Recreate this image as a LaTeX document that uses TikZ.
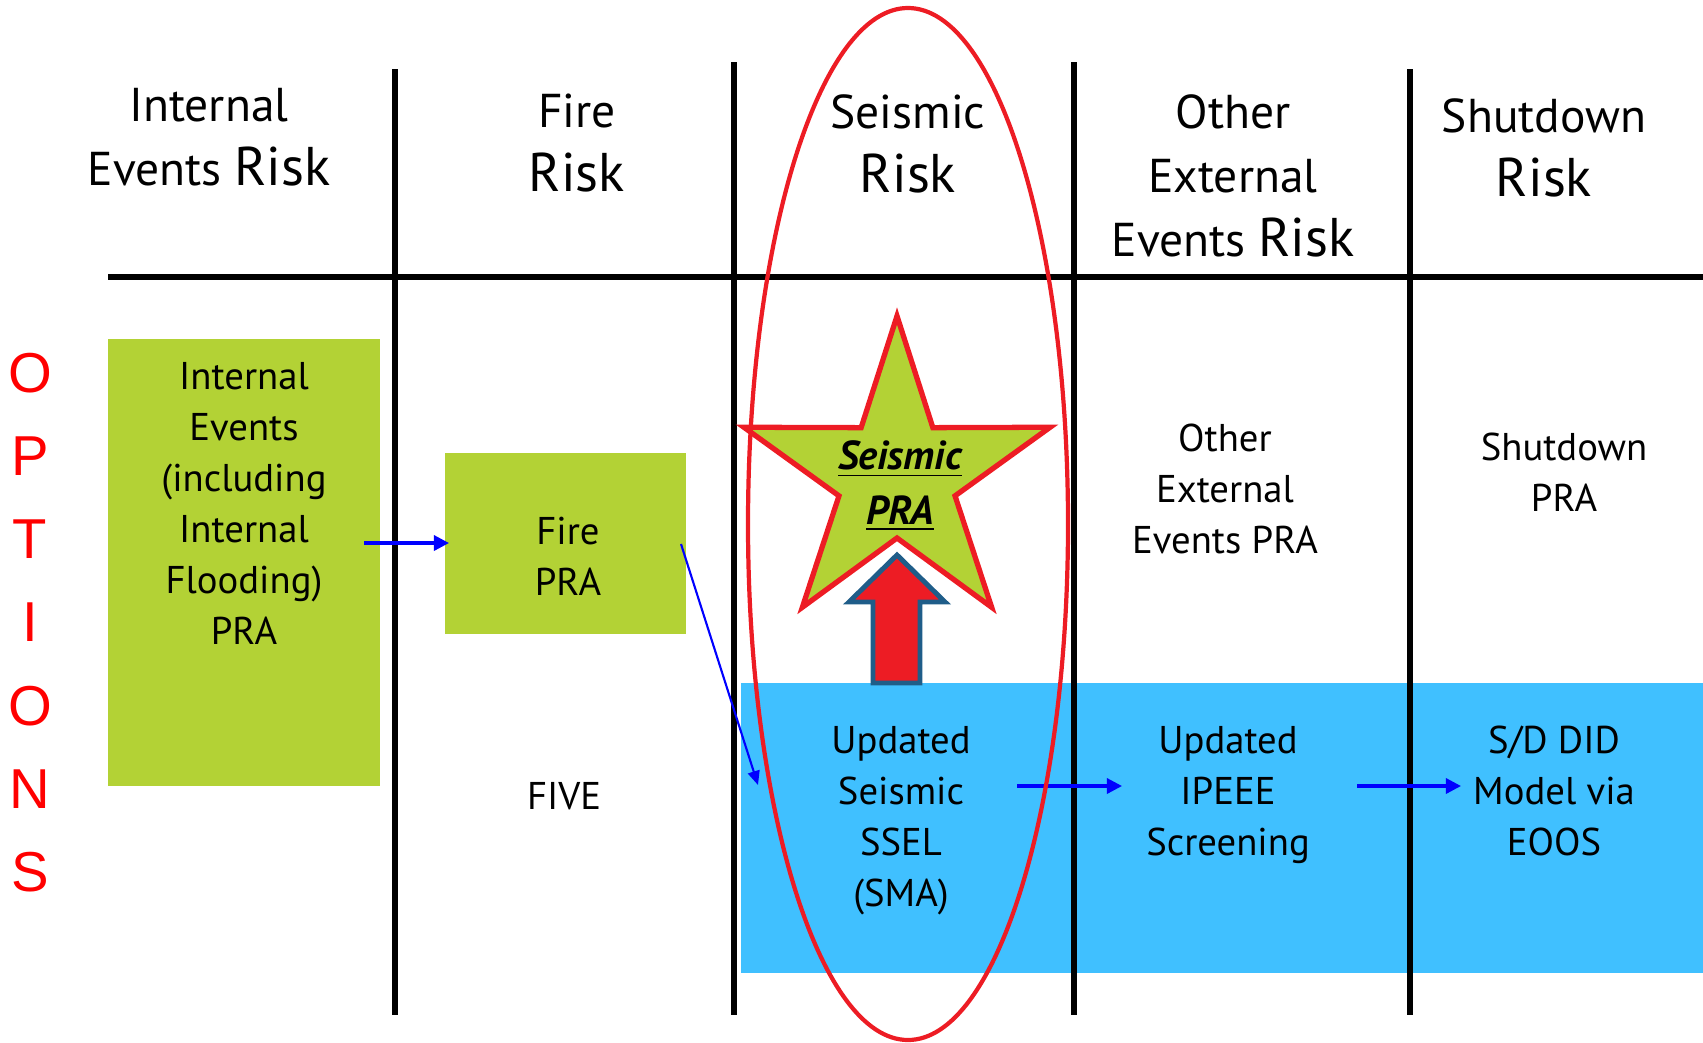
\documentclass[tikz,border=0pt]{standalone}
\usepackage{fontspec}
\setmainfont{PT Sans}
\newfontfamily\optfont{Liberation Sans}
\usetikzlibrary{arrows.meta,positioning,calc}

\definecolor{boxgreen}{RGB}{179,210,53}
\definecolor{bandblue}{RGB}{64,192,255}
\definecolor{ovalred}{RGB}{237,28,36}
\definecolor{edgeblue}{RGB}{31,93,137}

\newcommand{\riskword}{{\fontsize{15.5}{18.2}\selectfont Risk}}

\begin{document}
\begin{tikzpicture}[x=0.01cm,y=-0.01cm,>={Triangle[length=4.3pt,width=4.3pt]},
  hdr/.style={font=\fontsize{13.5}{18.2}\selectfont,align=center},
  txt/.style={font=\fontsize{11}{14.5}\selectfont,align=center},
  greenbox/.style={fill=boxgreen,inner sep=0pt},
  tabline/.style={line width=1.7pt},
  flow/.style={->,blue,line width=0.9pt},
  optletter/.style={font=\optfont\fontsize{16}{16}\selectfont,text=red}]
\useasboundingbox (0,0) rectangle (1703,1042);
% bands and boxes
\fill[bandblue] (741,683) rectangle (1703,973);
\node[greenbox,minimum width=2.72cm,minimum height=4.47cm] (iebox) at (244,562.5) {};
\node[greenbox,minimum width=2.41cm,minimum height=1.81cm] (firebox) at (565.5,543.5) {};
% table rules
\draw[tabline] (108,277) -- (1703,277);
\foreach \x/\t in {395/69,734/62,1074/62,1410/69}
  \draw[tabline] (\x,\t) -- (\x,1015);
% column heads
\node[hdr] (h-int) at (209,137) {Internal\\Events \riskword};
\node[hdr] (h-fire) at (577,143) {Fire\\\riskword};
\node[hdr] (h-seis) at (908,144) {Seismic\\\riskword};
\node[hdr] (h-ext) at (1233,176) {Other\\External\\Events \riskword};
\node[hdr] (h-sd) at (1544,148) {Shutdown\\\riskword};
% options
\foreach \l [count=\i] in {O,P,T,I,O,N,S}
  \node[optletter] (opt\i) at (30,{373+83.2*(\i-1)}) {\l};
% cell texts
\node[txt] (t-ie) at (244,503) {Internal\\Events\\(including\\Internal\\Flooding)\\PRA};
\node[txt] (t-fire) at (568,556) {Fire\\PRA};
\node[txt] (t-five) at (564,796) {FIVE};
\node[txt] (t-ext) at (1225,489) {Other\\External\\Events PRA};
\node[txt] (t-sd) at (1564,472) {Shutdown\\PRA};
\node[txt] (t-ssel) at (901,821) {Updated\\Seismic\\SSEL\\(SMA)};
\node[txt] (t-ipeee) at (1228,795) {Updated\\IPEEE\\Screening};
\node[txt] (t-did) at (1554,791) {S/D DID\\Model via\\EOOS};
% star and up arrow
\begin{scope}[shift={(897,477)}]
\filldraw[fill=boxgreen,draw=ovalred,line width=1.5pt] (-90:161) -- (-54:61) -- (-18:161) -- (18:61) -- (54:161)
  -- (90:61) -- (126:161) -- (162:61) -- (198:161) -- (234:61) -- cycle;
\end{scope}
\node[font=\fontsize{11.5}{15.4}\selectfont\bfseries\itshape,align=center] (t-spra) at (900,486) {\underline{Seismic}\\\underline{PRA}};
\filldraw[fill=ovalred,draw=edgeblue,line width=1.4pt] (897,555) -- (945,602) -- (920,602) -- (920,683)
  -- (873,683) -- (873,602) -- (849,602) -- cycle;
% flow arrows
\coordinate (ie-out) at (364,543);
\coordinate (fire-in) at (449,543);
\coordinate (fire-out) at (681,544);
\coordinate (ssel-in) at (758,785);
\coordinate (ssel-out) at (1017,786);
\coordinate (ipeee-in) at (1122,786);
\coordinate (ipeee-out) at (1357,786);
\coordinate (did-in) at (1461,786);
\draw[flow] (ie-out) -- (fire-in);
\draw[flow,line width=0.6pt,>={Triangle[length=4pt,width=3.4pt]}] (fire-out) -- (ssel-in);
\draw[flow] (ssel-out) -- (ipeee-in);
\draw[flow] (ipeee-out) -- (did-in);
% focus oval
\draw[ovalred,line width=1.2pt] (908,524) ellipse [x radius=160,y radius=516];
\end{tikzpicture}
\end{document}
